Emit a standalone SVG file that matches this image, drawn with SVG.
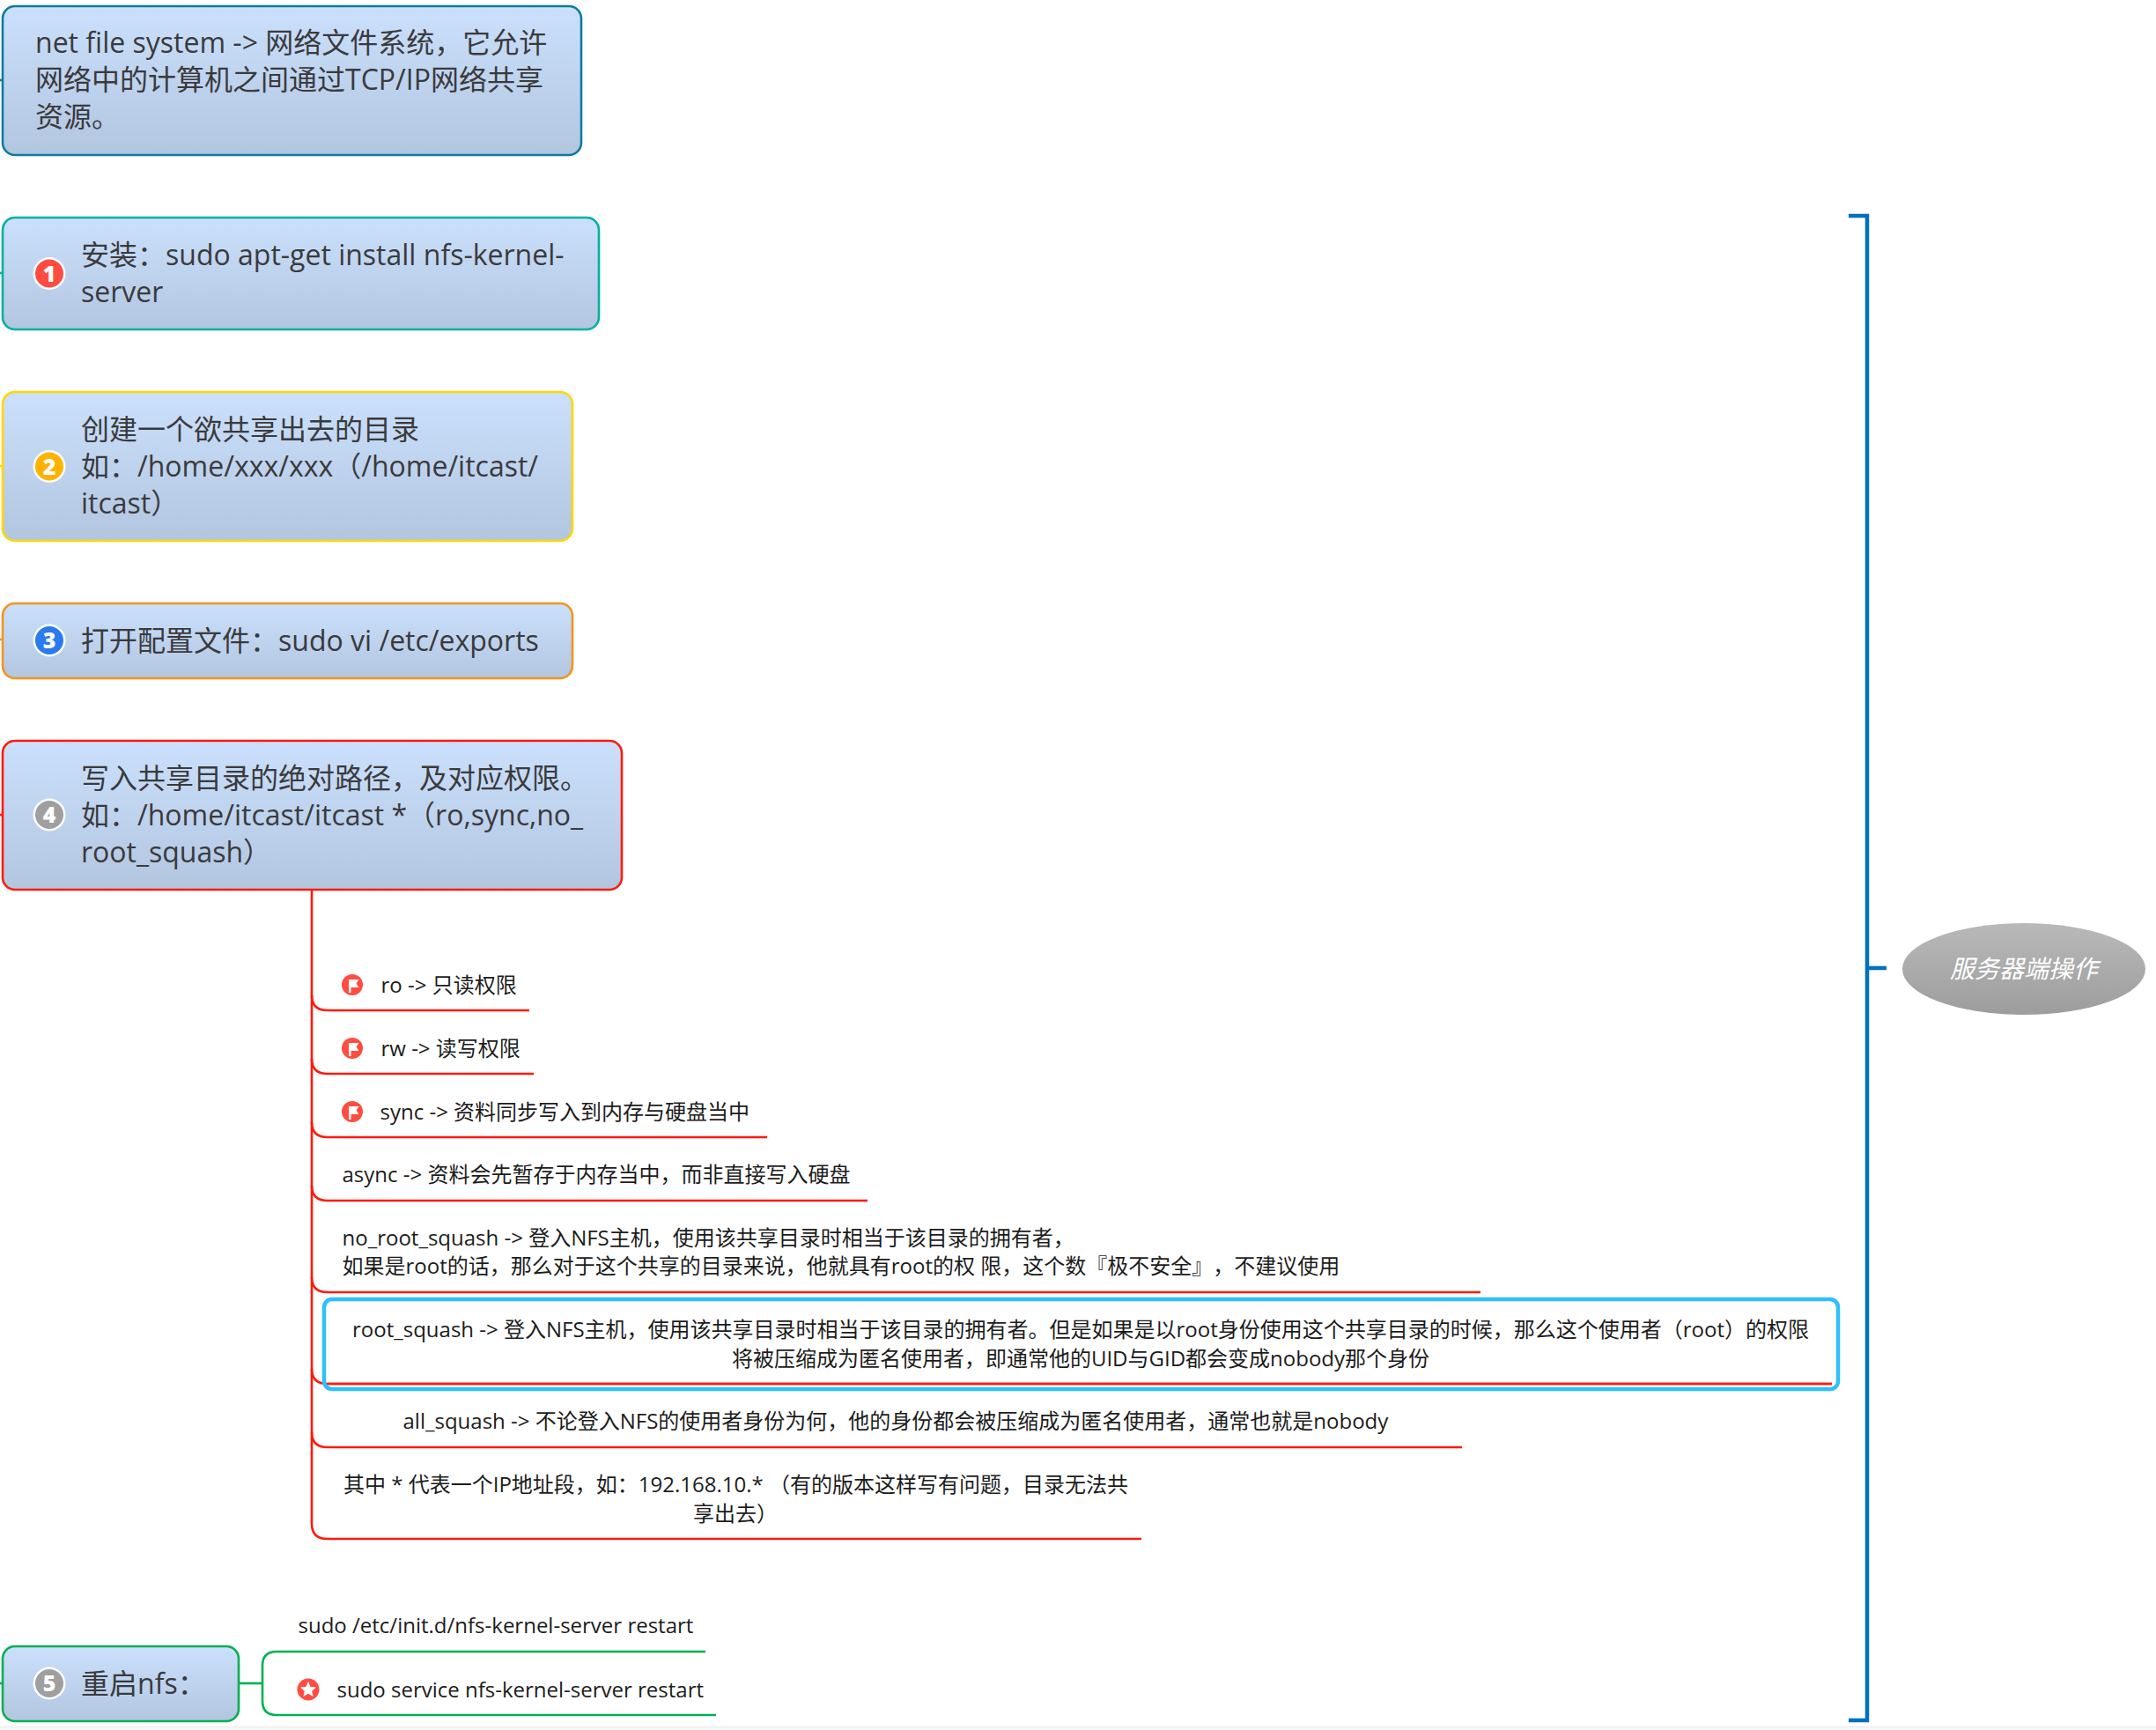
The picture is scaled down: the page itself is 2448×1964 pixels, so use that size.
<svg xmlns="http://www.w3.org/2000/svg" width="2448" height="1964" viewBox="0 0 2448 1964">
<style>
text{font-family:"Open Sans","Noto Sans CJK SC","Noto Sans",sans-serif;text-spacing-trim:space-all}
.t{font-size:32px;fill:#3a3a3c}
.s{font-size:24px;fill:#1c1c1c}
.box{fill:url(#g);stroke-width:2.6}
.c{fill:none;stroke-width:2.6}
.r{stroke:#ff1a0a}
.gr{stroke:#00b050}
.bl{fill:none;stroke:#0070c0;stroke-width:4.5}
.ring{fill:#fff}
.d{font-size:25px;font-weight:800;fill:#fff;text-anchor:middle}
.w{fill:#fff}
.m{text-anchor:middle}
</style>
<defs>
<linearGradient id="g" x1="0" y1="0" x2="0" y2="1"><stop offset="0" stop-color="#cbe0fc"/><stop offset="1" stop-color="#b2c6e0"/></linearGradient>
<linearGradient id="e" x1="0" y1="0" x2="0" y2="1"><stop offset="0" stop-color="#b9b9b9"/><stop offset="1" stop-color="#9d9d9d"/></linearGradient>
<g id="flag"><circle r="12" fill="#ff4c41"/><path class="w" d="M-4-6H7.5L4.5-1.5L7.5 3H-1.5V9H-4Z"/></g>
</defs>
<rect x="0" y="1960" width="2448" height="4" fill="#f8f8f8"/>
<rect x="0" y="1960" width="2448" height="1" fill="#e9e9e9"/>
<g id="connectors">
<path class="bl" d="M2099 245H2120V1953H2099M2120 1099H2142"/>
<g class="c r">
<path d="M354 1010V1130Q354 1147 372 1147H601"/>
<path d="M354 1130V1202Q354 1219 372 1219H606"/>
<path d="M354 1202V1274Q354 1291 372 1291H871"/>
<path d="M354 1274V1346Q354 1363 372 1363H985"/>
<path d="M354 1346V1450Q354 1467 372 1467H1681"/>
<path d="M354 1450V1554Q354 1571 372 1571H2080"/>
<path d="M354 1554V1626Q354 1643 372 1643H1660"/>
<path d="M354 1626V1730Q354 1747 372 1747H1296"/>
</g>
<g class="c gr">
<path d="M271 1911H298"/>
<path d="M801 1875H314Q298 1875 298 1891V1931Q298 1947 314 1947H813"/>
</g>
<path d="M0 91H3" class="c" stroke="#0e7c9b"/>
<path d="M0 310H3" class="c" stroke="#00b0a0"/>
<path d="M0 529H3" class="c" stroke="#ffd800"/>
<path d="M0 726H3" class="c" stroke="#f7931e"/>
<path d="M0 925H3" class="c r"/>
<path d="M0 1911H3" class="c gr"/>
</g>
<g id="n0"><rect class="box" x="3" y="7" width="657" height="169" rx="14" stroke="#0e7c9b"/>
<text class="t" x="40" y="60">net file system -&gt; 网络文件系统，它允许</text>
<text class="t" x="40" y="102">网络中的计算机之间通过TCP/IP网络共享</text>
<text class="t" x="40" y="144">资源。</text></g>
<g id="n1"><rect class="box" x="3" y="247" width="677" height="127" rx="14" stroke="#00b0a0"/>
<circle class="ring" cx="56" cy="310.5" r="18.5"/><circle cx="56" cy="310.5" r="16" fill="#ff4c41"/><text class="d" x="56" y="319.5">1</text>
<text class="t" x="92" y="301">安装：sudo apt-get install nfs-kernel-</text>
<text class="t" x="92" y="343">server</text></g>
<g id="n2"><rect class="box" x="3" y="445" width="647" height="169" rx="14" stroke="#ffd800"/>
<circle class="ring" cx="56" cy="529.5" r="18.5"/><circle cx="56" cy="529.5" r="16" fill="#ffb300"/><text class="d" x="56" y="538.5">2</text>
<text class="t" x="92" y="499">创建一个欲共享出去的目录</text>
<text class="t" x="92" y="541">如：/home/xxx/xxx（/home/itcast/</text>
<text class="t" x="92" y="583">itcast）</text></g>
<g id="n3"><rect class="box" x="3" y="685" width="647" height="85" rx="14" stroke="#f7931e"/>
<circle class="ring" cx="56" cy="727" r="18.5"/><circle cx="56" cy="727" r="16" fill="#2a7bf0"/><text class="d" x="56" y="736">3</text>
<text class="t" x="92" y="739">打开配置文件：sudo vi /etc/exports</text></g>
<g id="n4"><rect class="box" x="3" y="841" width="703" height="169" rx="14" stroke="#ff1a0a"/>
<circle class="ring" cx="56" cy="925" r="18.5"/><circle cx="56" cy="925" r="16" fill="#9f9f9f"/><text class="d" x="56" y="934">4</text>
<text class="t" x="92" y="895">写入共享目录的绝对路径，及对应权限。</text>
<text class="t" x="92" y="937">如：/home/itcast/itcast *（ro,sync,no_</text>
<text class="t" x="92" y="979">root_squash）</text></g>
<g id="i1"><use href="#flag" x="400" y="1118"/><text class="s" x="432.5" y="1126.5">ro -&gt; 只读权限</text></g>
<g id="i2"><use href="#flag" x="400" y="1190"/><text class="s" x="432.5" y="1198.5">rw -&gt; 读写权限</text></g>
<g id="i3"><use href="#flag" x="400" y="1262"/><text class="s" x="431.5" y="1270.5">sync -&gt; 资料同步写入到内存与硬盘当中</text></g>
<g id="i4"><text class="s" x="388.5" y="1341.5">async -&gt; 资料会先暂存于内存当中，而非直接写入硬盘</text></g>
<g id="i5"><text class="s" x="388.5" y="1414">no_root_squash -&gt; 登入NFS主机，使用该共享目录时相当于该目录的拥有者，</text>
<text class="s" x="388.5" y="1446">如果是root的话，那么对于这个共享的目录来说，他就具有root的权 限，这个数『极不安全』，不建议使用</text></g>
<g id="i6"><rect x="368" y="1475" width="1719" height="102" rx="9" fill="none" stroke="#2fbfff" stroke-width="4.5"/>
<text class="s m" x="1227" y="1518">root_squash -&gt; 登入NFS主机，使用该共享目录时相当于该目录的拥有者。但是如果是以root身份使用这个共享目录的时候，那么这个使用者（root）的权限</text>
<text class="s m" x="1227" y="1550.5">将被压缩成为匿名使用者，即通常他的UID与GID都会变成nobody那个身份</text></g>
<path class="c r" d="M372 1571H2080"/>
<g id="i7"><text class="s" x="457.5" y="1622">all_squash -&gt; 不论登入NFS的使用者身份为何，他的身份都会被压缩成为匿名使用者，通常也就是nobody</text></g>
<g id="i8"><text class="s" x="390" y="1694">其中 * 代表一个IP地址段，如：192.168.10.* （有的版本这样写有问题，目录无法共</text>
<text class="s" x="787" y="1726.5">享出去）</text></g>
<g id="n5"><rect class="box" x="3" y="1869" width="268" height="85" rx="14" stroke="#00b050"/>
<circle class="ring" cx="56" cy="1911" r="18.5"/><circle cx="56" cy="1911" r="16" fill="#9f9f9f"/><text class="d" x="56" y="1920">5</text>
<text class="t" x="92" y="1923">重启nfs：</text></g>
<g id="j1"><text class="s" x="338.5" y="1854">sudo /etc/init.d/nfs-kernel-server restart</text></g>
<g id="j2"><circle cx="350" cy="1918" r="12.5" fill="#ff4c41"/><polygon class="w" points="350,1909 352.6,1915 359,1915.5 354.2,1919.7 355.6,1926 350,1922.7 344.4,1926 345.8,1919.7 341,1915.5 347.4,1915"/>
<text class="s" x="382.5" y="1926.5">sudo service nfs-kernel-server restart</text></g>
<g id="root"><ellipse cx="2298" cy="1100" rx="138" ry="52" fill="url(#e)"/>
<text class="m" x="2298" y="1110" font-size="28" font-style="italic" fill="#fff">服务器端操作</text></g>
</svg>
